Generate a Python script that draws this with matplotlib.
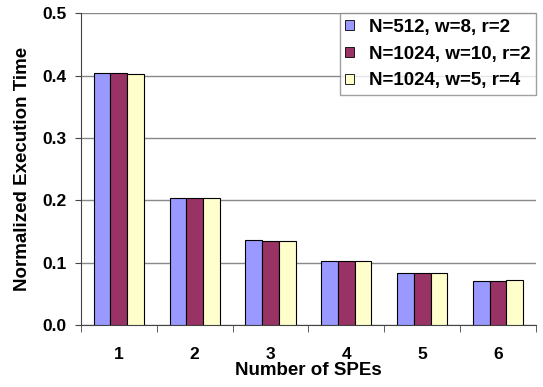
import matplotlib.pyplot as plt
import numpy as np

plt.rcParams['font.family'] = ['Liberation Sans', 'DejaVu Sans']
plt.rcParams['font.weight'] = 'bold'

spes = [1, 2, 3, 4, 5, 6]
series_names = ['N=512, w=8, r=2', 'N=1024, w=10, r=2', 'N=1024, w=5, r=4']
t_512_w8 = [0.404, 0.203, 0.137, 0.103, 0.083, 0.070]
t_1024_w10 = [0.404, 0.203, 0.135, 0.103, 0.084, 0.070]
t_1024_w5 = [0.403, 0.203, 0.135, 0.103, 0.084, 0.072]
colors = ['#9999FF', '#993366', '#FFFFCC']

fig = plt.figure(figsize=(5.43, 3.87), dpi=100)
ax = fig.add_axes([0.149, 0.160, 0.838, 0.806])

x = np.arange(len(spes))
w = 0.22
for i, (vals, name, c) in enumerate(zip([t_512_w8, t_1024_w10, t_1024_w5], series_names, colors)):
    ax.bar(x + (i - 1) * w, vals, w, color=c, edgecolor='black', linewidth=0.8, label=name, zorder=3)

ax.set_xlim(-0.5, len(spes) - 0.5)
ax.set_ylim(0, 0.5)
ax.set_yticks(np.arange(0, 0.51, 0.1))
ax.set_yticklabels(['%.1f' % v for v in np.arange(0, 0.51, 0.1)])
ax.yaxis.grid(True, color='#888888', linewidth=1, zorder=0)

ax.set_xticks(x)
ax.set_xticklabels([str(s) for s in spes])
ax.set_xticks(np.arange(-0.5, len(spes)), minor=True)
ax.tick_params(axis='x', which='major', length=0, pad=16, labelsize=12.5)
ax.tick_params(axis='x', which='minor', length=5, color='#444444')
ax.tick_params(axis='y', length=4.5, color='#444444', labelsize=12.5, pad=6)

for s in ['top', 'right']:
    ax.spines[s].set_visible(False)
for s in ['left', 'bottom']:
    ax.spines[s].set_color('#444444')

ax.set_xlabel('Number of SPEs', fontsize=13.5, fontweight='bold', labelpad=0)
ax.set_ylabel('Normalized Execution Time', fontsize=13.5, fontweight='bold', labelpad=8)

leg = ax.legend(loc='upper right', bbox_to_anchor=(1.0, 1.0), fontsize=13.5, frameon=True,
                fancybox=False, borderpad=0.3, handlelength=0.45, handleheight=0.45,
                handletextpad=0.8, labelspacing=0.52, borderaxespad=0.0)
leg.get_frame().set_edgecolor('#888888')
leg.get_frame().set_linewidth(1)
for h in leg.legend_handles:
    h.set_linewidth(0.6)

fig.savefig('out.png', dpi=100)
